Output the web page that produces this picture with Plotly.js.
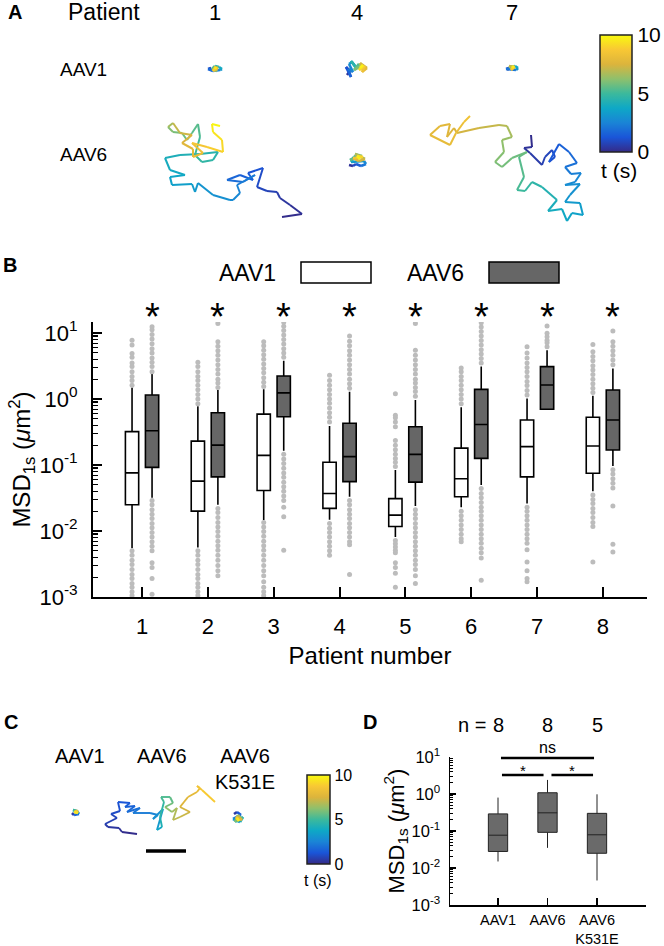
<!DOCTYPE html>
<html><head><meta charset="utf-8">
<script src="https://cdn.plot.ly/plotly-3.0.1.min.js"></script>
<style>html,body{margin:0;padding:0;background:#fff}#chart{width:664px;height:946px}</style>
</head><body><div id="chart"></div>
<script>
// ================= DATA =================
// ---- Panel B: MSD_1s per patient (µm²) ----
const patients = [1,2,3,4,5,6,7,8];
const bSignificance = ['*','*','*','*','*','*','*','*'];
const logTickVals = [0.001, 0.01, 0.1, 1, 10];
const logTickText = ['10<sup>-3</sup>','10<sup>-2</sup>','10<sup>-1</sup>','10<sup>0</sup>','10<sup>1</sup>'];

const aav1_q1      = [0.025, 0.020, 0.041, 0.022, 0.0117, 0.033, 0.066, 0.075];
const aav1_median  = [0.076, 0.057, 0.14, 0.037, 0.0174, 0.062, 0.19, 0.194];
const aav1_q3      = [0.32, 0.23, 0.59, 0.11, 0.031, 0.18, 0.48, 0.53];
const aav1_lowerfence = [0.0055, 0.0056, 0.0147, 0.0148, 0.0081, 0.023, 0.026, 0.040];
const aav1_upperfence = [1.5, 0.78, 1.4, 0.39, 0.084, 0.75, 1.02, 1.12];
const aav1_outliers = [
 [1.62,1.9,2.2,2.6,3.1,3.5,4.3,4.9,6.6,7.8, 0.005,0.0043,0.0036,0.0031,0.0026,0.0022,0.0019,0.0016,0.0014,0.0012,0.00105],
 [0.85,1.0,1.17,1.38,1.62,1.9,2.2,2.6,3.1,3.6, 0.005,0.0043,0.0036,0.0031,0.0026,0.0022,0.0019,0.0016,0.0014,0.0012,0.00105],
 [1.55,1.8,2.1,2.5,2.9,3.4,4.0,4.7,5.5,6.4,7.4, 0.0135,0.0115,0.0098,0.0083,0.007,0.006,0.0051,0.0043,0.0036,0.003,0.0025,0.0021,0.0017,0.0014,0.0012,0.00105],
 [0.45,0.53,0.62,0.73,0.86,1.0,1.17,1.38,1.62,1.9,2.3, 0.013,0.011,0.0095,0.0081,0.0069,0.0059,0.005,0.0043],
 [0.095,0.11,0.125,0.145,0.17,0.2,0.235,0.38,0.45,0.52,0.57,1.2, 0.0072,0.0064,0.0057,0.0051,0.0047,0.0033,0.0028,0.0023,0.0014],
 [0.85,1.0,1.17,1.38,1.62,1.9,2.2,2.6,2.95, 0.02,0.017,0.0145,0.0123,0.0105,0.0089,0.0076,0.0069],
 [1.15,1.35,1.6,1.85,2.2,2.6,3.0,3.5,4.2,5.0,6.2, 0.023,0.02,0.017,0.0145,0.0123,0.0105,0.0089,0.0076,0.0065,0.0052,0.0034,0.0025,0.0019,0.0017],
 [1.25,1.45,1.7,2.0,2.35,2.75,3.2,3.8,4.4,5.2,6.7, 0.035,0.03,0.026,0.022,0.019,0.016,0.0135,0.0117,0.0034]
];

const aav6_q1      = [0.092, 0.066, 0.54, 0.056, 0.055, 0.126, 0.70, 0.169];
const aav6_median  = [0.33, 0.20, 1.24, 0.134, 0.145, 0.41, 1.63, 0.48];
const aav6_q3      = [1.15, 0.62, 2.23, 0.43, 0.38, 1.4, 3.1, 1.37];
const aav6_lowerfence = [0.032, 0.025, 0.165, 0.033, 0.024, 0.05, 0.70, 0.097];
const aav6_upperfence = [2.4, 1.37, 3.8, 1.29, 0.97, 3.1, 5.5, 2.9];
const aav6_outliers = [
 [2.6,3.1,3.6,4.2,5.0,5.8,6.9,8.1,9.5,11.2,12.4, 0.029,0.025,0.021,0.018,0.0155,0.013,0.0112,0.0095,0.0081,0.0069,0.0059,0.005,0.0033,0.0028,0.0019,0.0011],
 [1.5,1.75,2.0,2.4,2.8,3.3,3.9,4.6,5.4,6.3,7.4,14, 0.022,0.019,0.016,0.0135,0.0115,0.0098,0.0083,0.007,0.006,0.0051,0.0043,0.0036,0.003,0.0025,0.0021],
 [4.3,5.0,5.8,6.8,8.0,9.3,10.9,12.7,14.5, 0.145,0.123,0.105,0.089,0.076,0.065,0.055,0.047,0.04,0.034,0.029,0.023,0.0165,0.0051],
 [1.45,1.7,2.0,2.4,2.8,3.3,3.9,4.6,5.4,6.4,7.5,9.0, 0.029,0.025,0.021,0.018,0.0155,0.013,0.0112,0.0095,0.0081,0.0069,0.0062,0.0022],
 [1.1,1.3,1.5,1.75,2.0,2.4,2.8,3.3,3.9,4.6,5.5,14, 0.021,0.018,0.0155,0.013,0.0112,0.0095,0.0081,0.0069,0.0059,0.005,0.0043,0.0036,0.0031,0.0026,0.0021,0.0016],
 [3.5,4.1,4.8,5.6,6.6,7.7,9.0,10.5,12.3,14.3, 0.044,0.037,0.032,0.027,0.023,0.02,0.017,0.0145,0.0123,0.0105,0.0089,0.0076,0.0065,0.0055,0.0047,0.0039,0.0018],
 [6.2,7.1,7.8,8.8,9.9,12.8],
 [3.3,3.9,4.6,5.4,6.3,7.4,10.7, 0.085,0.073,0.062,0.053,0.045,0.024,0.0063,0.0048]
];

// ---- Panel D: per-patient summary (µm²) ----
const dGroups = ['AAV1','AAV6','AAV6<br>K531E'];
const dCounts = [8, 8, 5];
const d_q1 = [0.028, 0.092, 0.025];
const d_median = [0.077, 0.31, 0.079];
const d_q3 = [0.29, 1.08, 0.30];
const d_lowerfence = [0.015, 0.035, 0.0046];
const d_upperfence = [0.8, 2.4, 0.98];
const dComparisons = [[0,1,'*'],[1,2,'*'],[0,2,'ns']];

// ---- Panels A & C: single-particle trajectories (x, y in ~25 nm units; t in s) ----
const trajA_P1_AAV1 = {x:[-6,-4,-7,-2,5,7,4,0,-3,2,-1,3,-2,1,0], y:[-1,1,0,-2,-1,0,2,3,0,-2,2,1,-2,2,0], t:[0,0.7,1.4,2.1,2.8,3.5,4.3,5,5.7,6.4,7.1,7.8,8.5,9.2,10]};
const trajA_P4_AAV1 = {x:[-10,-7,-11,-6,-9,-4,-8,-5,-2,-6,-1,2,-3,4,7,3,10,5,8,2,6,3], y:[-6,-2,2,-8,0,-3,5,7,3,8,1,5,-1,3,-2,6,1,-3,3,-1,4,1], t:[0,0.5,1,1.4,1.9,2.4,2.9,3.3,3.8,4.3,4.8,5.2,5.7,6.2,6.7,7.1,7.6,8.1,8.6,9,9.5,10]};
const trajA_P7_AAV1 = {x:[-5,-3,-6,4,6,3,-2,1,-3,3,-1,2,0], y:[-2,0,-1,-2,0,2,1,-1,2,1,-2,2,0], t:[0,0.8,1.7,2.5,3.3,4.2,5,5.8,6.7,7.5,8.3,9.2,10]};
const trajA_P1_AAV6 = {
 x:[49,69,57,47,44,34,24,30,15,20,7,-6,10,22,4,7,0,-3,-20,-35,-38,-41,-61,-63,-48,-63,-68,-53,-33,-15,-20,-31,-38,-33,-35,-41,-46,-51,-60,-65,-60,-53,-41,-51,-40,-40,-30,-41,-26,-10,-11,-20,-21,-13],
 y:[-47,-44,-35,-28,-22,-21,-17,2,-3,-10,-5,-10,-12,-5,-15,-23,-30,-30,-25,-13,-22,-14,-15,-7,-5,0,12,15,16,18,10,8,15,33,46,37,30,37,38,43,47,37,35,27,21,13,17,27,23,18,30,38,46,44],
 t:[0,0.15,0.3,0.45,0.6,0.75,0.9,1.1,1.3,1.5,1.6,1.8,2.0,2.2,2.4,2.6,2.7,2.8,3.0,3.1,3.3,3.4,3.5,3.6,3.8,3.9,4.1,4.2,4.4,4.5,4.6,4.8,4.9,5.2,5.4,5.5,5.7,5.8,6.0,6.2,7.0,7.2,7.4,7.6,7.8,8.0,8.2,8.4,8.8,9.0,9.3,9.5,9.8,10]};
const trajA_P4_AAV6 = {x:[-9,-5,-2,3,8,6,-7,-4,0,-8,4,-3,7,1,-5,5,-1,2], y:[-5,-6,-4,-6,-4,-1,-2,3,5,0,4,6,1,-1,2,3,4,1], t:[0,0.6,1.2,1.8,2.4,2.9,3.5,4.1,4.7,5.3,5.9,6.5,7.1,7.6,8.2,8.8,9.4,10]};
const trajA_P7_AAV6 = {
 x:[25,26,18,24,36,39,46,49,43,53,63,71,59,65,75,69,59,74,64,59,74,77,66,61,56,42,51,36,26,19,11,18,13,21,6,-4,-11,-2,-4,6,1,-7,-27,-49,-52,-59,-56,-66,-76,-56,-50,-42,-36],
 y:[33,21,20,15,3,11,18,11,6,24,16,5,1,-6,-5,-14,-17,-16,-27,-34,-35,-47,-45,-53,-41,-43,-32,-19,-14,-23,-22,-9,11,16,10,1,6,16,28,31,42,43,40,35,40,31,44,42,33,23,35,46,52],
 t:[0,0.15,0.3,0.45,0.6,0.75,0.9,1.05,1.2,1.5,1.7,1.9,2.1,2.3,2.5,2.7,2.8,2.9,3.0,3.2,3.3,3.5,3.6,3.7,3.9,4.0,4.2,4.5,4.7,4.9,5.1,5.3,5.5,5.7,5.8,5.9,6.0,6.2,6.3,6.5,6.8,7.0,7.3,7.4,7.5,7.6,7.7,7.8,7.9,8.0,8.1,8.3,8.5]};
const trajC_AAV1 = {x:[-4,-2,3,1,-3,2,-1,0,2,-2], y:[-1,-3,-2,1,2,0,-1,2,-1,0], t:[0,1.1,2.2,3.3,4.4,5.6,6.7,7.8,8.9,10]};
const trajC_AAV6 = {
 x:[-23,-38,-41,-52,-55,-43,-49,-40,-42,-30,-35,-25,-33,-20,-27,-10,-2,-7,3,-3,2,0,4,1,10,13,5,12,17,13,20,30,20,28,37,40,37,42,55],
 y:[-24,-22,-18,-17,-14,-8,-4,-1,8,7,3,4,-2,2,-3,-3,-5,-9,1,-20,-17,-7,8,13,13,7,3,-2,2,-10,-7,-2,3,13,18,22,24,20,8],
 t:[0,0.15,0.3,0.45,0.6,0.75,0.9,1.05,1.2,1.35,1.5,1.65,1.8,2.0,2.2,2.4,2.6,2.8,3.0,3.5,4.0,4.5,5.0,5.2,5.4,5.7,6.0,6.5,6.7,6.9,7.1,7.3,7.5,7.8,8.0,8.2,8.4,8.6,9.0]};
const trajC_K531E = {x:[-4,-1,3,-5,2,5,-3,0,4,-2,1,-1], y:[4,6,3,-1,-4,1,-4,3,-2,1,-3,0], t:[0,0.9,1.8,2.7,3.6,4.5,5.5,6.4,7.3,8.2,9.1,10]};
const aColumns = [1, 4, 7];               // patient numbers shown in panel A
const aRows = ['AAV1', 'AAV6'];
const cColumns = ['AAV1', 'AAV6', 'AAV6<br>K531E'];
const scaleBarLength = 40;                // 1 µm in trajectory units
const tRange = [0, 10];
const tTicks = [0, 5, 10];
const tLabel = 't (s)';

// ================= LAYOUT HELPERS =================
const W = 664, H = 946;
const px = v => v / W;
const py = v => 1 - v / H;
const FONT = 'Liberation Sans, Arial, Helvetica, sans-serif';

const parula = [[0,'#352a87'],[0.125,'#1a55d8'],[0.25,'#1a84d6'],[0.375,'#0ea8c6'],[0.5,'#3cb99c'],[0.625,'#8fc06c'],[0.75,'#dcb43c'],[0.875,'#f8c834'],[1,'#f9fb0e']];
function hex(h){return [parseInt(h.slice(1,3),16),parseInt(h.slice(3,5),16),parseInt(h.slice(5,7),16)];}
function parulaAt(t){
  const f = Math.max(0, Math.min(1, (t - tRange[0])/(tRange[1]-tRange[0])));
  for (let i=0;i<parula.length-1;i++){
    const [a,ca]=parula[i],[b,cb]=parula[i+1];
    if (f<=b){const u=(f-a)/(b-a);const A=hex(ca),B=hex(cb);
      return 'rgb('+A.map((v,k)=>Math.round(v+(B[k]-v)*u)).join(',')+')';}
  }
  return parula[parula.length-1][1];
}

const traces = [];
const layout = {
  width: W, height: H, margin:{l:0,r:0,t:0,b:0},
  paper_bgcolor:'#fff', plot_bgcolor:'rgba(0,0,0,0)',
  font:{family:FONT, color:'#000', size:16},
  showlegend:false, boxmode:'group', boxgap:0.392, boxgroupgap:0.336,
  annotations:[], shapes:[]
};
function ann(text, x, y, size, extra){
  layout.annotations.push(Object.assign({text, x:px(x), y:py(y), xref:'paper', yref:'paper',
    showarrow:false, xanchor:'center', yanchor:'middle', font:{size, family:FONT, color:'#000'}}, extra||{}));
}

// ================= PANEL B =================
function bTrace(name, q1, med, q3, lf, uf, outl, fill){
  return {type:'box', name, x:patients, q1, median:med, q3, lowerfence:lf, upperfence:uf, y:outl,
    boxpoints:'outliers', jitter:0, pointpos:0, whiskerwidth:0, fillcolor:fill,
    line:{color:'#000', width:1.6}, marker:{color:'#bcbcbc', size:5, line:{width:0}},
    offsetgroup:name, alignmentgroup:'B', xaxis:'x', yaxis:'y', hoverinfo:'skip'};
}
const bAAV1 = bTrace('AAV1', aav1_q1, aav1_median, aav1_q3, aav1_lowerfence, aav1_upperfence, aav1_outliers, '#ffffff');
const bAAV6 = bTrace('AAV6', aav6_q1, aav6_median, aav6_q3, aav6_lowerfence, aav6_upperfence, aav6_outliers, '#666666');
traces.push(bAAV1, bAAV6);

layout.xaxis = {domain:[px(93),px(647)], range:[0.255,8.67], tickvals:patients, ticks:'inside', ticklen:10, tickwidth:2,
  tickcolor:'#000', showline:true, linewidth:2, linecolor:'#000', showgrid:false, zeroline:false,
  tickfont:{size:22}, ticklabelstandoff:9, anchor:'y',
  title:{text:'Patient number', font:{size:24}, standoff:9}};
layout.yaxis = {domain:[py(597),py(322)], type:'log', range:[-3,1.167], tickvals:logTickVals, ticktext:logTickText,
  ticks:'inside', ticklen:9, tickwidth:2, tickcolor:'#000',
  minor:{ticks:'inside', ticklen:5, tickwidth:1.2, tickcolor:'#000', dtick:'D1', showgrid:false},
  showline:true, linewidth:2, linecolor:'#000', showgrid:false, zeroline:false,
  tickfont:{size:22}, ticklabelstandoff:9, anchor:'x',
  title:{text:'MSD<sub>1s</sub> (<i>μ</i>m<sup>2</sup>)', font:{size:24}, standoff:0}};

ann('<b>B</b>', 10, 265, 20);
// legend boxes
[[bAAV1, 247, 301], [bAAV6, 435, 489]].forEach(([tr, tx, rx]) => {
  ann(tr.name, tx, 273, 23);
  layout.shapes.push({type:'rect', xref:'paper', yref:'paper', x0:px(rx), x1:px(rx+70), y0:py(283), y1:py(262),
    fillcolor:tr.fillcolor, line:{color:'#000', width:1.5}});
});
// significance stars above AAV6 boxes
patients.forEach((p,i) => {
  layout.annotations.push({text:bSignificance[i], x:p, xref:'x', xshift:10, y:py(317), yref:'paper',
    showarrow:false, xanchor:'center', yanchor:'middle', font:{size:38, family:FONT, color:'#000'}});
});

// ================= PANEL D =================
traces.push({type:'box', name:'D', x:dGroups, q1:d_q1, median:d_median, q3:d_q3,
  lowerfence:d_lowerfence, upperfence:d_upperfence, boxpoints:false, width:0.39, whiskerwidth:0,
  fillcolor:'#6a6a6a', line:{color:'#222', width:1}, xaxis:'x2', yaxis:'y2', hoverinfo:'skip'});
layout.xaxis2 = {domain:[px(450),px(646)], type:'category', range:[-0.97,2.99], ticks:'inside', ticklen:7, tickwidth:1.5,
  tickcolor:'#000', showline:true, linewidth:1.5, linecolor:'#000', showgrid:false, zeroline:false,
  tickfont:{size:14.5}, ticklabelstandoff:1, anchor:'y2'};
layout.yaxis2 = {domain:[py(905),py(757)], type:'log', range:[-3,1], tickvals:logTickVals, ticktext:logTickText,
  ticks:'inside', ticklen:6, tickwidth:1.5, tickcolor:'#000',
  minor:{ticks:'inside', ticklen:3, tickwidth:1, tickcolor:'#000', dtick:'D1', showgrid:false},
  showline:true, linewidth:1.5, linecolor:'#000', showgrid:false, zeroline:false,
  tickfont:{size:16.5}, ticklabelstandoff:5, anchor:'x2',
  title:{text:'MSD<sub>1s</sub> (<i>μ</i>m<sup>2</sup>)', font:{size:22}, standoff:1}};
ann('<b>D</b>', 370, 722, 20);
dCounts.forEach((n,i) => {
  layout.annotations.push({text:String(n), x:i, xref:'x2', y:py(725), yref:'paper', showarrow:false,
    xanchor:'center', yanchor:'middle', font:{size:20, family:FONT}});
});
layout.annotations.push({text:'n =', x:0, xref:'x2', xshift:-10, y:py(725), yref:'paper', showarrow:false,
  xanchor:'right', yanchor:'middle', font:{size:20, family:FONT}});
const sigY = {'*':775, 'ns':758};
dComparisons.forEach(([a,b,lab]) => {
  const inset = (lab === 'ns') ? 0.06 : 0.08;
  const y = sigY[lab];
  layout.shapes.push({type:'line', xref:'x2', yref:'paper', x0:a+inset, x1:b-inset, y0:py(y), y1:py(y), line:{color:'#000', width:2.5}});
  layout.annotations.push({text:lab, x:(a+b)/2, xref:'x2', y:py(lab==='ns' ? y-11 : y-5), yref:'paper', showarrow:false,
    xanchor:'center', yanchor:'middle', font:{size:lab==='ns'?16:15, family:FONT}});
});

// ================= PANELS A & C (trajectories) =================
const cells = [
  {tr:trajA_P1_AAV1, cx:215, cy:69,  w:40,  h:30,  lw:2.6},
  {tr:trajA_P4_AAV1, cx:357, cy:69,  w:40,  h:30,  lw:2.6},
  {tr:trajA_P7_AAV1, cx:512, cy:68,  w:40,  h:30,  lw:2.6},
  {tr:trajA_P1_AAV6, cx:233, cy:170, w:160, h:120, lw:2},
  {tr:trajA_P4_AAV6, cx:358, cy:160, w:40,  h:30,  lw:2.6},
  {tr:trajA_P7_AAV6, cx:506, cy:168, w:170, h:120, lw:2},
  {tr:trajC_AAV1,    cx:76,  cy:812, w:30,  h:30,  lw:2.6},
  {tr:trajC_AAV6,    cx:160, cy:810, w:130, h:110, lw:1.9, scalebar:true},
  {tr:trajC_K531E,   cx:238, cy:818, w:30,  h:30,  lw:2.6}
];
cells.forEach((c, k) => {
  const id = k + 3;
  layout['xaxis'+id] = {domain:[px(c.cx-c.w/2), px(c.cx+c.w/2)], range:[-c.w/2, c.w/2], visible:false, fixedrange:true, anchor:'y'+id};
  layout['yaxis'+id] = {domain:[py(c.cy+c.h/2), py(c.cy-c.h/2)], range:[-c.h/2, c.h/2], visible:false, fixedrange:true, anchor:'x'+id};
  const tr = c.tr;
  for (let i = 0; i < tr.x.length - 1; i++) {
    traces.push({type:'scatter', mode:'lines', x:[tr.x[i], tr.x[i+1]], y:[tr.y[i], tr.y[i+1]],
      xaxis:'x'+id, yaxis:'y'+id, line:{color:parulaAt((tr.t[i]+tr.t[i+1])/2), width:c.lw},
      hoverinfo:'skip', cliponaxis:false});
  }
  if (c.scalebar) {
    layout.shapes.push({type:'line', xref:'x'+id, yref:'y'+id, x0:-14, x1:-14+scaleBarLength, y0:-41, y1:-41,
      line:{color:'#000', width:3.5}});
  }
});

// colour bars (time)
function colorbarTrace(axisId, cb){
  return {type:'scatter', mode:'markers', x:[null], y:[null], xaxis:'x'+axisId, yaxis:'y'+axisId, hoverinfo:'skip',
    marker:{color:[tRange[0]], cmin:tRange[0], cmax:tRange[1], colorscale:parula, showscale:true, colorbar:cb}};
}
traces.push(colorbarTrace(3, {x:px(600), xanchor:'left', y:py(35), yanchor:'top', len:117, lenmode:'pixels',
  thickness:32, thicknessmode:'pixels', outlinewidth:1.5, outlinecolor:'#222', tickvals:tTicks, ticks:'',
  tickfont:{size:21}, xpad:0, ypad:0}));
ann(tLabel, 619, 170, 21);
traces.push(colorbarTrace(9, {x:px(307), xanchor:'left', y:py(775), yanchor:'top', len:89, lenmode:'pixels',
  thickness:23, thicknessmode:'pixels', outlinewidth:1.5, outlinecolor:'#222', tickvals:tTicks, ticks:'',
  tickfont:{size:16}, xpad:0, ypad:0}));
ann(tLabel, 318, 880, 16);

// Panel A labels
ann('<b>A</b>', 15, 12, 20);
ann('Patient', 104, 12, 23);
aColumns.forEach((p, i) => ann(String(p), cells[i].cx, 12, 22));
aRows.forEach((r, i) => ann(r, 83, i === 0 ? cells[0].cy : 155, 19));
// Panel C labels
ann('<b>C</b>', 11, 722, 20);
cColumns.forEach((lab, i) => {
  layout.annotations.push({text:lab, x:px(i===0?80:(i===1?162:245)), y:py(743), xref:'paper', yref:'paper', showarrow:false,
    xanchor:'center', yanchor:'top', font:{size:20, family:FONT, color:'#000'}});
});

Plotly.newPlot('chart', traces, layout, {staticPlot:true, displayModeBar:false});
</script></body></html>
